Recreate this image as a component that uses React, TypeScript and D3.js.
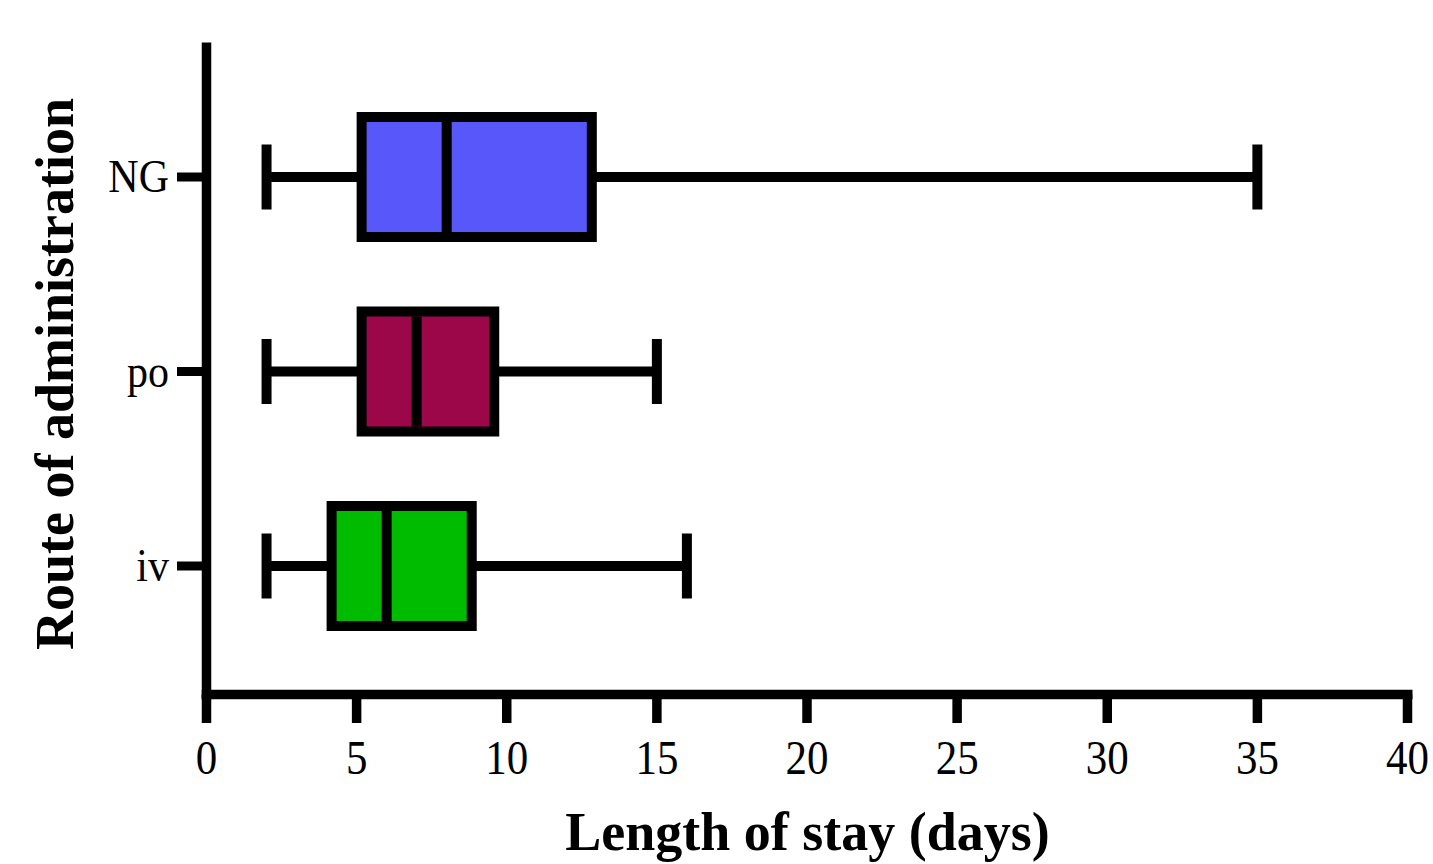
import React from "react";
import * as d3 from "d3";

const categories = ["NG", "po", "iv"];
const mins = [2, 2, 2];
const q1s = [5, 5, 4];
const medians = [8, 7, 6];
const q3s = [13, 9.75, 9];
const maxs = [35, 15, 16];
const colors = ["#5757fa", "#9b0748", "#00bc00"];
const xTicks = [0, 5, 10, 15, 20, 25, 30, 35, 40];

const W = 1433;
const H = 864;
const SW = 10;
const FONT = "'Liberation Serif', 'Times New Roman', serif";

export default function App() {
  const x = d3.scaleLinear().domain([0, 40]).range([206.5, 1407.5]);
  const y = d3.scalePoint<string>().domain(categories).range([177, 566]);
  const axisX = 206.5;
  const axisY = 694.5;
  const boxH = 130;
  const capH = 65;

  return (
    <svg
      width={W}
      height={H}
      style={{ position: "absolute", left: 0, top: 0, background: "#fff" }}
    >
      {categories.map((c, i) => {
        const cy = y(c) as number;
        const x1 = x(q1s[i]);
        const x3 = x(q3s[i]);
        return (
          <g key={c}>
            <line x1={x(mins[i])} x2={x(maxs[i])} y1={cy} y2={cy} stroke="#000" strokeWidth={SW} />
            <line x1={x(mins[i])} x2={x(mins[i])} y1={cy - capH / 2} y2={cy + capH / 2} stroke="#000" strokeWidth={SW} />
            <line x1={x(maxs[i])} x2={x(maxs[i])} y1={cy - capH / 2} y2={cy + capH / 2} stroke="#000" strokeWidth={SW} />
            <rect
              x={x1 + SW / 2}
              y={cy - boxH / 2 + SW / 2}
              width={x3 - x1 - SW}
              height={boxH - SW}
              fill={colors[i]}
              stroke="#000"
              strokeWidth={SW}
            />
            <line x1={x(medians[i])} x2={x(medians[i])} y1={cy - boxH / 2 + SW} y2={cy + boxH / 2 - SW} stroke="#000" strokeWidth={SW} />
          </g>
        );
      })}

      <line x1={axisX} x2={axisX} y1={42.5} y2={axisY + 4.75} stroke="#000" strokeWidth={9.5} />
      <line x1={axisX - 4.75} x2={1412.5} y1={axisY} y2={axisY} stroke="#000" strokeWidth={9.5} />

      {xTicks.map((t) => (
        <g key={t}>
          <line x1={x(t)} x2={x(t)} y1={axisY} y2={723} stroke="#000" strokeWidth={9.5} />
          <text
            transform={`translate(${x(t)},774) scale(1,1.15)`}
            textAnchor="middle"
            fontFamily={FONT}
            fontSize={43}
            fill="#000"
          >
            {t}
          </text>
        </g>
      ))}

      {categories.map((c) => {
        const cy = y(c) as number;
        return (
          <g key={c}>
            <line x1={177} x2={axisX} y1={cy} y2={cy} stroke="#000" strokeWidth={9} />
            <text
              transform={`translate(169,${cy + 15}) scale(1,1.1)`}
              textAnchor="end"
              fontFamily={FONT}
              fontSize={42}
              fill="#000"
            >
              {c}
            </text>
          </g>
        );
      })}

      <text
        x={807.5}
        y={850}
        textAnchor="middle"
        fontFamily={FONT}
        fontWeight="bold"
        fontSize={54}
        fill="#000"
      >
        Length of stay (days)
      </text>
      <text
        transform="translate(73,374) rotate(-90)"
        textAnchor="middle"
        fontFamily={FONT}
        fontWeight="bold"
        fontSize={54}
        fill="#000"
      >
        Route of administration
      </text>
    </svg>
  );
}
